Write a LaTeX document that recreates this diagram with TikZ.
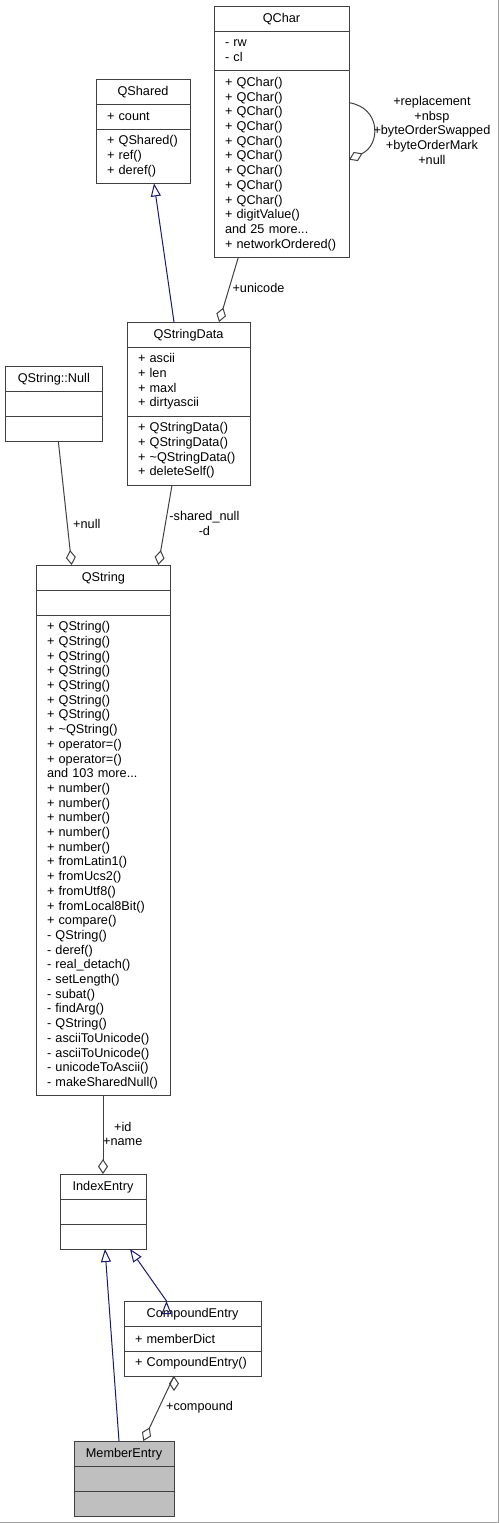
\documentclass[tikz,border=0pt]{standalone}
\usepackage{fontspec}
\setmainfont{Liberation Sans}
\usepackage{xcolor}
\usetikzlibrary{positioning,arrows.meta,calc}

\definecolor{edgegray}{HTML}{404040}
\definecolor{inhblue}{HTML}{191970}
\definecolor{framegray}{HTML}{A0A0A0}
\definecolor{focusgray}{HTML}{BFBFBF}
\newcommand{\umlfont}{\fontsize{12.7}{14.7}\selectfont}

\begin{document}
\begin{tikzpicture}[x=1pt,y=-1pt,
		box/.style={draw=edgegray, line width=1pt, outer sep=0pt, inner xsep=11pt, inner ysep=0pt,
			font=\umlfont, text width=#1pt, align=left},
		head/.style={box=#1, align=center, minimum height=25pt, text height=9.5pt, text depth=1pt},
		rows/.style={minimum height={#1*14.7pt+10.3pt}},
		inherit/.style={draw=inhblue, line width=1pt, -{Triangle[open, length=13pt, width=10pt]}},
		aggr/.style={draw=edgegray, line width=1pt, -{Diamond[open, length=15pt, width=10pt]}},
		lbl/.style={font=\umlfont, inner sep=1pt, align=center}]
		\useasboundingbox (0,0) rectangle (499,1523);
		\draw[framegray, line width=1pt] (498,0) -- (498,1522) -- (0,1522);
		%
		% QChar
		\node[head=113, anchor=north west] (QChar) at (214,6) {QChar};
		\node[box=113, rows=2, below=0pt of QChar] (QChar-a) {-~rw\\-~cl};
		\node[box=113, rows=12, below=0pt of QChar-a] (QChar-m) {+~QChar()\\+~QChar()\\+~QChar()\\+~QChar()\\+~QChar()\\+~QChar()\\+~QChar()\\+~QChar()\\+~QChar()\\+~digitValue()\\and 25 more...\\+~networkOrdered()};
		% QShared
		\node[head=72, anchor=north west] (QShared) at (96,79) {QShared};
		\node[box=72, rows=1, below=0pt of QShared] (QShared-a) {+~count};
		\node[box=72, rows=3, below=0pt of QShared-a] (QShared-m) {+~QShared()\\+~ref()\\+~deref()};
		% QStringData
		\node[head=101, anchor=north west] (QSD) at (127,322) {QStringData};
		\node[box=101, rows=4, below=0pt of QSD] (QSD-a) {+~ascii\\+~len\\+~maxl\\+~dirtyascii};
		\node[box=101, rows=4, below=0pt of QSD-a] (QSD-m) {+~QStringData()\\+~QStringData()\\+~\textasciitilde QStringData()\\+~deleteSelf()};
		% QString::Null
		\node[head=75.7, anchor=north west] (QNull) at (5,366) {QString::Null};
		\node[box=75.7, rows=1, below=0pt of QNull] (QNull-a) {};
		\node[box=75.7, rows=1, below=0pt of QNull-a] (QNull-m) {};
		% QString
		\node[head=112.7, anchor=north west] (QString) at (36,565) {QString};
		\node[box=112.7, rows=1, below=0pt of QString] (QString-a) {};
		\node[box=112.7, rows=32, below=0pt of QString-a] (QString-m) {+~QString()\\+~QString()\\+~QString()\\+~QString()\\+~QString()\\+~QString()\\+~QString()\\+~\textasciitilde QString()\\+~operator=()\\+~operator=()\\and 103 more...\\+~number()\\+~number()\\+~number()\\+~number()\\+~number()\\+~fromLatin1()\\+~fromUcs2()\\+~fromUtf8()\\+~fromLocal8Bit()\\+~compare()\\-~QString()\\-~deref()\\-~real\_detach()\\-~setLength()\\-~subat()\\-~findArg()\\-~QString()\\-~asciiToUnicode()\\-~asciiToUnicode()\\-~unicodeToAscii()\\-~makeSharedNull()};
		% IndexEntry
		\node[head=64, anchor=north west] (IndexEntry) at (60,1174) {IndexEntry};
		\node[box=64, rows=1, below=0pt of IndexEntry] (IndexEntry-a) {};
		\node[box=64, rows=1, below=0pt of IndexEntry-a] (IndexEntry-m) {};
		% CompoundEntry
		\node[head=115, anchor=north west] (CompoundEntry) at (124,1301) {CompoundEntry};
		\node[box=115, rows=1, below=0pt of CompoundEntry] (CompoundEntry-a) {+~memberDict};
		\node[box=115, rows=1, below=0pt of CompoundEntry-a] (CompoundEntry-m) {+~CompoundEntry()};
		% MemberEntry
		\node[head=78, fill=focusgray, anchor=north west] (MemberEntry) at (74,1441) {MemberEntry};
		\node[box=78, rows=1, fill=focusgray, below=0pt of MemberEntry] (MemberEntry-a) {};
		\node[box=78, rows=1, fill=focusgray, below=0pt of MemberEntry-a] (MemberEntry-m) {};
		%
		% inheritance arrows
		\path[inherit]
		($(QSD.north west)+(47,0)$) edge ($(QShared-m.south west)+(58,0)$)
		($(MemberEntry.north west)+(45,0)$) edge ($(IndexEntry-m.south west)+(45,0)$)
		($(CompoundEntry.north west)+(42.5,0)$) edge ($(IndexEntry-m.south west)+(70,0)$);
		% aggregation arrows
		\path[aggr]
		($(QChar-m.south west)+(24.3,0)$) edge node[lbl, pos=0.47, anchor=west, xshift=1.8pt] (l-unicode) {+unicode} ($(QSD.north west)+(92,0)$)
		($(QNull-m.south west)+(53.3,0)$) edge node[lbl, pos=0.667, anchor=west, xshift=4.5pt] (l-null) {+null} ($(QString.north west)+(35.7,0)$)
		($(QSD-m.south west)+(45,0)$) edge node[lbl, pos=0.478, anchor=west, xshift=2.5pt] (l-shared) {-shared\_null\\-d} ($(QString.north west)+(122.3,0)$)
		($(QString-m.south west)+(67,0)$) edge node[lbl, pos=0.487, anchor=west, xshift=-1.3pt] (l-idname) {+id\\+name} ($(IndexEntry.north west)+(43,0)$)
		($(CompoundEntry-m.south west)+(50,0)$) edge node[lbl, pos=0.48, anchor=west, xshift=5.4pt] (l-compound) {+compound} ($(MemberEntry.north west)+(69.3,0)$);
		% self aggregation
		\draw[aggr] ($(QChar-m.north east)+(0,32)$) .. controls ($(QChar-m.north east)+(32,37)$) and ($(QChar-m.north east)+(32,74)$) .. ($(QChar-m.north east)+(0,89)$)
		node[lbl, pos=0.5, anchor=west, xshift=-1pt, yshift=-2.75pt] (l-self) {+replacement\\+nbsp\\+byteOrderSwapped\\+byteOrderMark\\+null};
	\end{tikzpicture}
\end{document}
